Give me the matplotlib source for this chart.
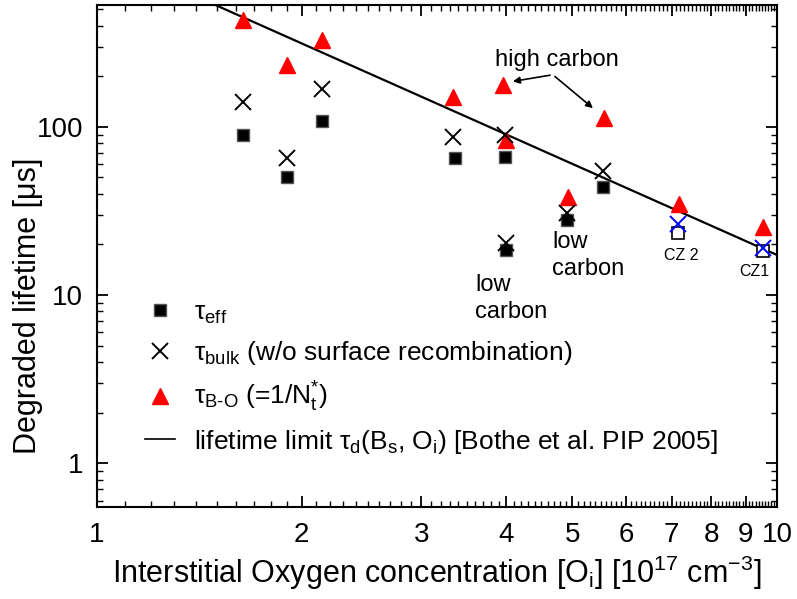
import matplotlib
matplotlib.use("Agg")
import matplotlib.pyplot as plt
from matplotlib.lines import Line2D
from matplotlib.ticker import FixedLocator

plt.rcParams["font.family"] = ["Liberation Sans", "DejaVu Sans"]
plt.rcParams["mathtext.fontset"] = "custom"
plt.rcParams["mathtext.rm"] = "Liberation Sans"
plt.rcParams["mathtext.it"] = "Liberation Sans:italic"

# ── data ────────────────────────────────────────────────────────────────────
oi       = [1.64, 1.90, 2.14, 3.36, 3.98, 3.99, 4.91, 5.55]
tau_eff  = [89.6, 50.4, 108.6, 65.4, 66.0, 18.5, 27.9, 44.0]
oi_bulk  = [1.64, 1.90, 2.14, 3.34, 3.98, 3.99, 4.91, 5.55]
tau_bulk = [141, 65.4, 168, 87.2, 89.6, 20.4, 30.8, 54.7]

oi_bo  = [1.64, 1.90, 2.14, 3.34, 3.96, 3.99, 4.93, 5.57, 7.17, 9.53]
tau_bo = [433, 234, 330, 151, 178, 83.7, 38.3, 113, 34.8, 25.4]

oi_cz       = [7.15, 9.53]
tau_eff_cz  = [23.4, 18.3]
tau_bulk_cz = [26.5, 19.1]

# Bothe et al. lifetime limit, end points
oi_line  = [1.0, 10.0]
tau_line = [1090, 17.3]

# ── plot ────────────────────────────────────────────────────────────────────
fig = plt.figure(figsize=(7.97, 5.99), dpi=100)
ax = fig.add_axes([0.1217, 0.1536, 0.8533, 0.8381])

ax.plot(oi_line, tau_line, color="black", lw=1.6, zorder=2)
ax.plot(oi, tau_eff, "s", ms=8, mfc="black", mec="#555555", mew=1.0, zorder=3)
ax.plot(oi_cz, tau_eff_cz, "s", ms=8, mfc="white", mec="black", mew=1.2, zorder=3)
ax.plot(oi_bulk, tau_bulk, "x", ms=11, mec="black", mew=1.4, zorder=4)
ax.plot(oi_cz, tau_bulk_cz, "x", ms=11, mec="blue", mew=1.4, zorder=4)
ax.plot(oi_bo, tau_bo, "^", ms=12, mfc="red", mec="red", zorder=3)

ax.set_xscale("log")
ax.set_yscale("log")
ax.set_xlim(1, 10)
ax.set_ylim(0.55, 530)

xt = [1, 2, 3, 4, 5, 6, 7, 8, 9, 10]
ax.set_xticks(xt)
ax.set_xticklabels([str(v) for v in xt])
# minor ticks every 0.1 like the original Origin axis
ax.xaxis.set_minor_locator(FixedLocator([i / 10 for i in range(11, 100) if i % 10]))
ax.set_yticks([1, 10, 100])
ax.set_yticklabels(["1", "10", "100"])

ax.tick_params(which="both", direction="in", top=True, right=True, labelsize=20)
ax.tick_params(which="major", length=8, width=1.3)
ax.tick_params(which="minor", length=4.5, width=1.0)
ax.tick_params(axis="x", which="both", pad=10.5)
ax.tick_params(axis="y", which="both", pad=10)
ax.tick_params(axis="x", which="minor", labelbottom=False)
for s in ax.spines.values():
    s.set_linewidth(1.5)

ax.set_xlabel(r"Interstitial Oxygen concentration [O$_\mathrm{i}$] [10$^\mathrm{17}$ cm$^\mathrm{-3}$]",
              fontsize=22)
ax.set_ylabel("Degraded lifetime [μs]", fontsize=22)
ax.xaxis.set_label_coords(0.5, -0.094)
ax.yaxis.set_label_coords(-0.079, 0.40)

# annotations
ax.text(4.75, 251, "high carbon", fontsize=17, ha="center", va="center")
ax.annotate("", xy=(4.05, 185), xytext=(4.68, 204),
            arrowprops=dict(arrowstyle="-|>", color="black", lw=1.2))
ax.annotate("", xy=(5.4, 126), xytext=(4.68, 204),
            arrowprops=dict(arrowstyle="-|>", color="black", lw=1.2))
ax.text(3.6, 13.4, "low\ncarbon", fontsize=17, ha="left", va="top", linespacing=1.3)
ax.text(4.67, 24.0, "low\ncarbon", fontsize=17, ha="left", va="top", linespacing=1.3)
ax.text(7.22, 17.3, "CZ 2", fontsize=11.5, ha="center", va="center")
ax.text(9.25, 13.9, "CZ1", fontsize=11.5, ha="center", va="center")

handles = [
    Line2D([], [], ls="none", marker="s", ms=8, mfc="black", mec="#555555"),
    Line2D([], [], ls="none", marker="x", ms=11, mec="black", mew=1.4),
    Line2D([], [], ls="none", marker="^", ms=12, mfc="red", mec="red"),
    Line2D([], [], color="black", lw=1.2),
]
labels = [
    r"τ$_\mathrm{eff}$",
    r"τ$_\mathrm{bulk}$ (w/o surface recombination)",
    r"τ$_\mathrm{B\text{-}O}$ (=1/N$_\mathrm{t}^\mathrm{*}$)",
    r"lifetime limit τ$_\mathrm{d}$(B$_\mathrm{s}$, O$_\mathrm{i}$) [Bothe et al. PIP 2005]",
]
ax.legend(handles, labels, loc="upper left", bbox_to_anchor=(0.055, 0.432),
          frameon=False, fontsize=19, handlelength=1.15, handletextpad=0.7,
          labelspacing=0.5, borderaxespad=0)

fig.savefig("out.png", dpi=100)
